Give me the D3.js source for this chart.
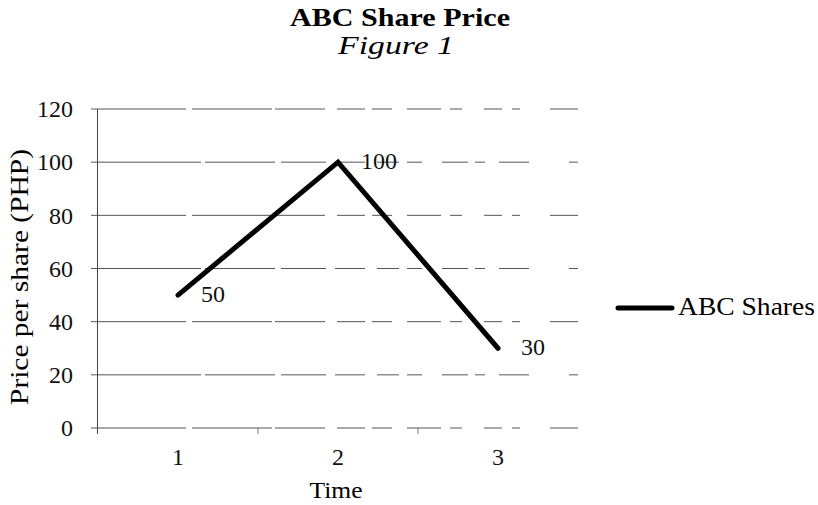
<!DOCTYPE html>
<html>
<head>
<meta charset="utf-8">
<script src="https://cdn.jsdelivr.net/npm/d3@7"></script>
<style>
  html, body { margin: 0; padding: 0; background: #fff; }
  svg text { font-family: "Liberation Serif", "Times New Roman", Times, serif; }
</style>
</head>
<body>
<svg id="chart" width="818" height="505"></svg>
<script>
// Share price by time period
const periods = ["1", "2", "3"];
const prices = [50, 100, 30];
const yTicks = [0, 20, 40, 60, 80, 100, 120];
const seriesName = "ABC Shares";

const FONT = "'Liberation Serif', 'Times New Roman', Times, serif";
const svg = d3.select("#chart");
const margin = { left: 98, right: 240, top: 109, bottom: 77 };
const W = 818, H = 505;

const x = d3.scaleBand().domain(periods).range([margin.left, W - margin.right]);
const y = d3.scaleLinear().domain([0, 120]).range([H - margin.bottom, margin.top]);
const cx = p => x(p) + x.bandwidth() / 2;

// Title
svg.append("text").attr("x", 400).attr("y", 26).attr("text-anchor", "middle")
  .style("font-family", FONT).attr("font-size", 25).attr("font-weight", "bold")
  .attr("textLength", 220).attr("lengthAdjust", "spacingAndGlyphs")
  .text("ABC Share Price");
svg.append("text").attr("x", 396).attr("y", 54).attr("text-anchor", "middle")
  .style("font-family", FONT).attr("font-size", 25).attr("font-style", "italic")
  .attr("textLength", 116).attr("lengthAdjust", "spacingAndGlyphs")
  .text("Figure 1");

// Horizontal gridlines (thin, broken)
svg.append("g").selectAll("line").data(yTicks).join("line")
  .attr("x1", margin.left - 7).attr("x2", W - margin.right)
  .attr("y1", d => y(d)).attr("y2", d => y(d))
  .attr("stroke", "#555").attr("stroke-width", 1)
  .attr("stroke-dasharray", (d, i) => i % 2
    ? "110,4,70,6,45,9,30,12,22,8,15,20,26,7,10,14,30,40"
    : "95,6,80,3,50,12,28,7,20,15,34,9,12,22,18,10,8,30");

// Y axis
const yAxis = d3.axisLeft(y).tickValues(yTicks).tickSize(0).tickPadding(25);
const gy = svg.append("g").attr("transform", `translate(${margin.left},0)`).call(yAxis);
gy.attr("font-family", null);
gy.select(".domain").attr("stroke", "#444").attr("d", `M-0.5,${y(120)}V${y(0) + 6}`);
gy.selectAll(".tick text").style("font-family", FONT).attr("font-size", 24).attr("fill", "#111");

// X axis
const xAxis = d3.axisBottom(x).tickSize(0).tickPadding(20);
const gx = svg.append("g").attr("transform", `translate(0,${y(0)})`).call(xAxis);
gx.attr("font-family", null);
gx.select(".domain").remove();
gx.selectAll(".tick text").style("font-family", FONT).attr("font-size", 24).attr("fill", "#111");
// Category separator ticks
svg.append("g").selectAll("line").data(periods.slice(1)).join("line")
  .attr("x1", d => x(d)).attr("x2", d => x(d))
  .attr("y1", y(0)).attr("y2", y(0) + 6)
  .attr("stroke", "#777").attr("stroke-width", 1);

// Axis titles
svg.append("text").attr("x", 336).attr("y", 498).attr("text-anchor", "middle")
  .style("font-family", FONT).attr("font-size", 24)
  .attr("textLength", 53).attr("lengthAdjust", "spacingAndGlyphs")
  .text("Time");
svg.append("text").attr("transform", `translate(28,277) rotate(-90)`)
  .attr("text-anchor", "middle").style("font-family", FONT).attr("font-size", 25)
  .attr("textLength", 256).attr("lengthAdjust", "spacingAndGlyphs")
  .text("Price per share (PHP)");

// Series line
const line = d3.line().x((d, i) => cx(periods[i])).y(d => y(d));
svg.append("path").datum(prices).attr("d", line)
  .attr("fill", "none").attr("stroke", "#000").attr("stroke-width", 5)
  .attr("stroke-linecap", "round").attr("stroke-linejoin", "miter");

// Data labels
svg.append("g").selectAll("text").data(prices).join("text")
  .attr("x", (d, i) => cx(periods[i]) + 23)
  .attr("y", d => y(d) + 7)
  .style("font-family", FONT).attr("font-size", 24).attr("fill", "#111")
  .text(d => d);

// Legend
const lg = svg.append("g").attr("transform", "translate(618,308)");
lg.append("line").attr("x1", 0).attr("x2", 54).attr("y1", 0).attr("y2", 0)
  .attr("stroke", "#000").attr("stroke-width", 5).attr("stroke-linecap", "round");
lg.append("text").attr("x", 60).attr("y", 7).style("font-family", FONT).attr("font-size", 25)
  .attr("textLength", 137).attr("lengthAdjust", "spacingAndGlyphs")
  .text(seriesName);
</script>
</body>
</html>
